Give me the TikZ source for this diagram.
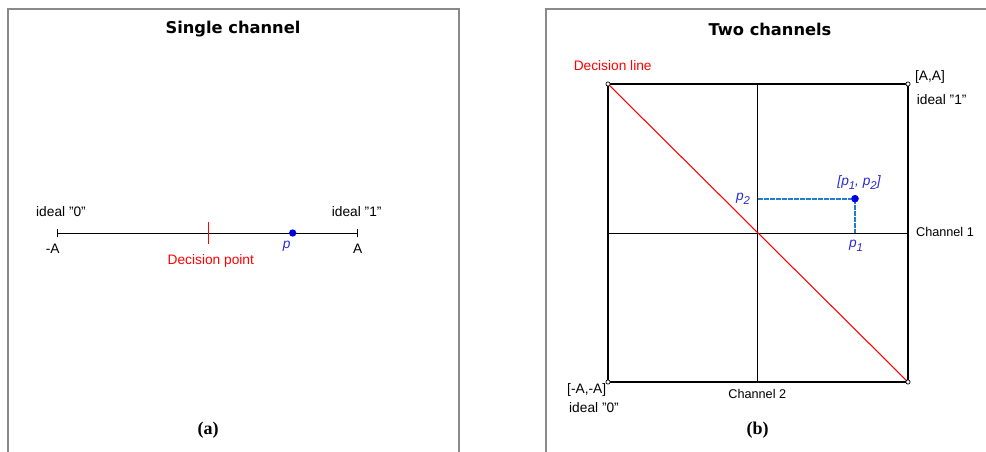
\documentclass[tikz,border=0pt]{standalone}
\usepackage{fontspec}
\setmainfont{Liberation Sans}
\newfontfamily\titlefont{DejaVu Sans}
\newfontfamily\capfont{Liberation Serif}
\definecolor{framegray}{HTML}{8A8A8A}
\definecolor{dotblue}{HTML}{0000E0}
\definecolor{lblblue}{HTML}{2A2AD0}
\definecolor{guideblue}{HTML}{1E7FCB}
\newcommand\psub[1]{p\raisebox{-0.55ex}{\fontsize{8.5}{9}\selectfont #1}}
\tikzset{
  x=0.75pt, y=-0.75pt,
  panelframe/.style={draw=framegray, line width=1.5pt},
  lbl/.style={inner sep=0pt, font=\fontsize{10.3}{11}\selectfont},
  smalllbl/.style={inner sep=0pt, font=\fontsize{9.5}{10}\selectfont},
  redlbl/.style={lbl, text=red},
  bluelbl/.style={lbl, text=lblblue, font=\fontsize{10.3}{11}\selectfont\itshape},
  ttl/.style={inner sep=0pt, font=\titlefont\bfseries\fontsize{12.2}{14}\selectfont},
  captn/.style={inner sep=0pt, font=\capfont\bfseries\fontsize{13.5}{15}\selectfont},
  axisline/.style={draw=black, line width=0.6pt},
  corner/.style={circle, draw=black, fill=white, inner sep=0pt, minimum size=3.2pt, line width=0.5pt},
  bigdot/.style={circle, fill=dotblue, inner sep=0pt, minimum size=5.5pt},
  guide/.style={draw=guideblue, line width=1.5pt, dash pattern=on 0.6pt off 0.3pt},
}
\begin{document}
\begin{tikzpicture}
\useasboundingbox (0,0) rectangle (986,452);
\clip (0,0) rectangle (986,452);
\fill[white] (0,0) rectangle (986,452);
% frames
\draw[panelframe] (8,470) -- (8,9.5) -- (459,9.5) -- (459,470);
\draw[panelframe] (546,470) -- (546,9.5) -- (1000,9.5);

% ---------- left panel ----------
\node[ttl] (t1) at (233,29) {Single channel};
\coordinate (l0) at (57.7,233);
\coordinate (l1) at (357.7,233);
\draw[axisline] (l0) -- (l1);
\draw[axisline] ([yshift=-3.2pt]l0) -- ([yshift=3.2pt]l0);
\draw[axisline] ([yshift=-3.2pt]l1) -- ([yshift=3.2pt]l1);
\coordinate (dpt) at (208,222);
\coordinate (dpb) at (208,244);
\draw[red, line width=0.7pt] (dpt) -- (dpb);
\node[bigdot] (pt) at (292.7,233) {};
\node[lbl] (i0) at (61,212) {ideal "0"};
\node[lbl] (i1) at (356.7,212) {ideal "1"};
\node[lbl] (mA) at (52.7,249) {-A};
\node[lbl] (pA) at (357.7,249) {A};
\node[bluelbl] (plbl) at (286.7,246) {p};
\node[redlbl] (dplbl) at (210.8,261) {Decision point};
\node[captn] (ca) at (208,430) {(a)};

% ---------- right panel ----------
\node[ttl] (t2) at (770,29) {Two channels};
\coordinate (tl) at (608,84);
\coordinate (tr) at (908,84);
\coordinate (bl) at (608,382);
\coordinate (br) at (908,382);
\coordinate (cl) at (608,233);
\coordinate (cr) at (908,233);
\coordinate (ct) at (757.6,84);
\coordinate (cb) at (757.6,382);
\draw[axisline] (cl) -- (cr);
\draw[axisline] (ct) -- (cb);
\draw[black, line width=1.6pt] (tl) -- (bl);
\draw[black, line width=1.6pt] (tr) -- (br);
\draw[black, line width=1.2pt] (tl) -- (tr);
\draw[black, line width=0.8pt] (bl) -- (br);
\draw[red, line width=0.8pt] (tl) -- (br);
\coordinate (p2x) at (757.6,198.7);
\coordinate (p1y) at (855,233);
\node[bigdot] (P) at (855,198.7) {};
\draw[guide] (p2x) -- (P.center);
\draw[guide] (P.center) -- (p1y);
\node[bigdot] at (855,198.7) {};
\node[corner] (ctl) at (tl) {};
\node[corner] (ctr) at (tr) {};
\node[corner] (cbl) at (bl) {};
\node[corner] (cbr) at (br) {};
\node[bluelbl] (pp) at (859,183) {[\psub{1}, \psub{2}]};
\node[bluelbl] (p2lbl) at (743,199) {\psub{2}};
\node[bluelbl] (p1lbl) at (856,246) {\psub{1}};
\node[redlbl] (dl) at (612.7,66) {Decision line};
\node[lbl] (AA) at (930,77) {[A,A]};
\node[lbl] (id1) at (941.7,100) {ideal "1"};
\node[smalllbl] (ch1) at (945,231.7) {Channel 1};
\node[smalllbl] (ch2) at (757.3,393.7) {Channel 2};
\node[lbl] (mAA) at (586.7,390) {[-A,-A]};
\node[lbl] (id0) at (594,408) {ideal "0"};
\node[captn] (cb2) at (757.7,430) {(b)};
\end{tikzpicture}
\end{document}
